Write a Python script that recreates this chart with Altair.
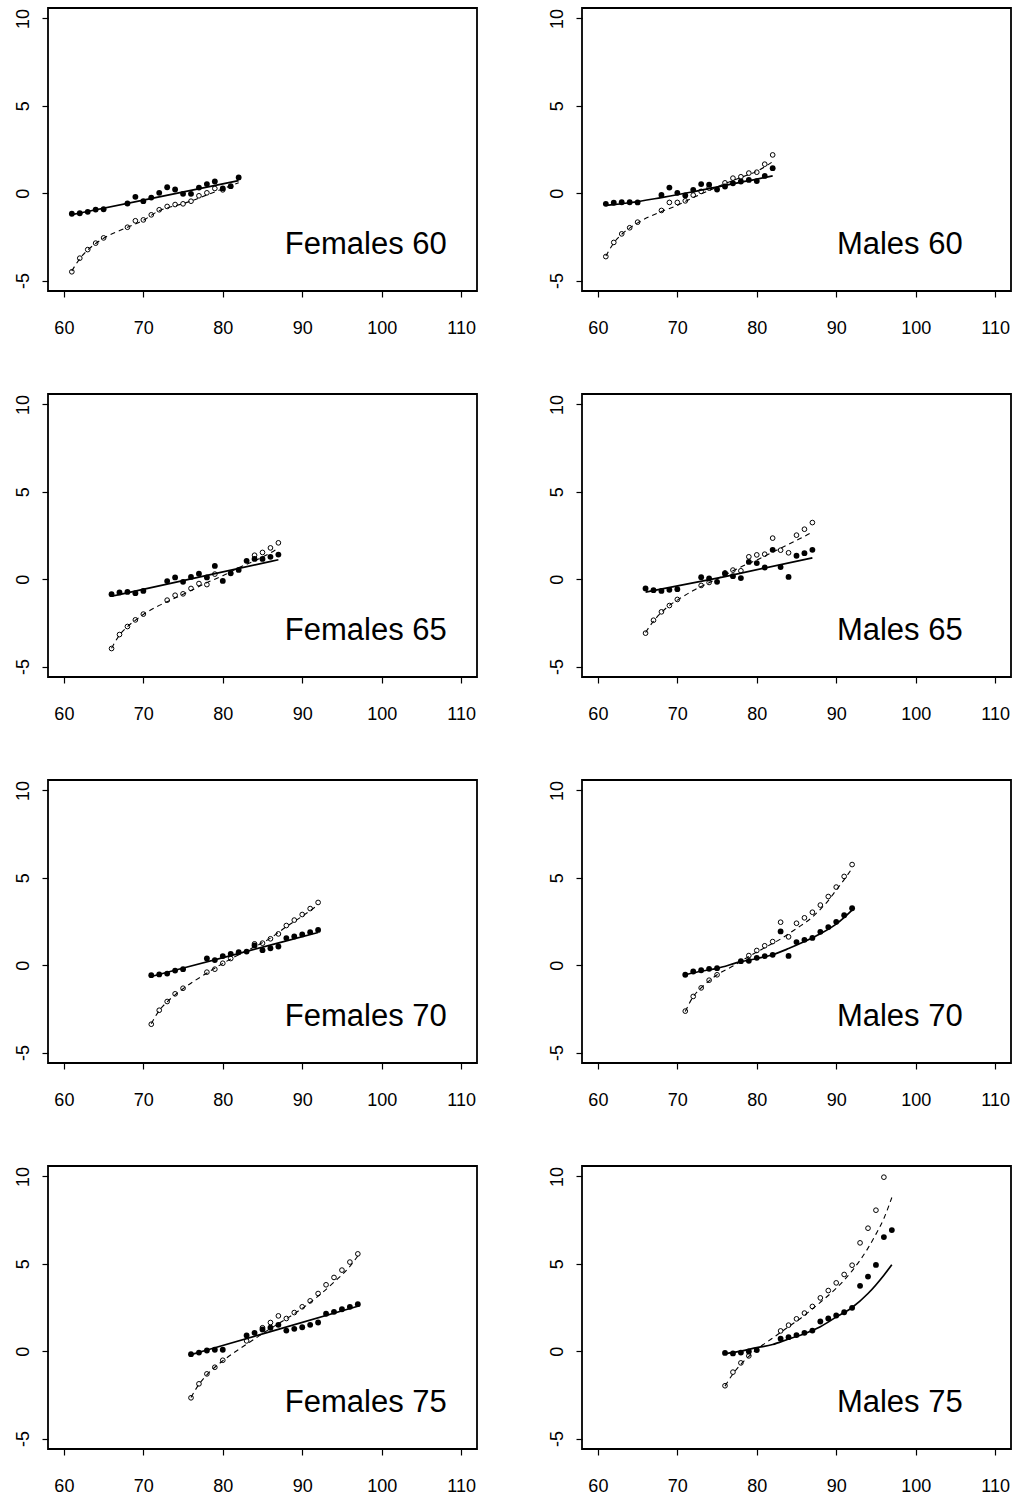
import altair as alt
import pandas as pd

# ---- ages observed in each cohort (gaps where no observations exist) ----
AGES_60 = [61, 62, 63, 64, 65, 68, 69, 70, 71, 72, 73, 74, 75, 76, 77, 78, 79, 80, 81, 82]
AGES_65 = [66, 67, 68, 69, 70, 73, 74, 75, 76, 77, 78, 79, 80, 81, 82, 83, 84, 85, 86, 87]
AGES_70 = [71, 72, 73, 74, 75, 78, 79, 80, 81, 82, 83, 84, 85, 86, 87, 88, 89, 90, 91, 92]
AGES_75 = [76, 77, 78, 79, 80, 83, 84, 85, 86, 87, 88, 89, 90, 91, 92, 93, 94, 95, 96, 97]

# ---- Females 60 ----
F60_FILLED = [-1.18, -1.15, -1.07, -0.94, -0.92, -0.59, -0.21, -0.46, -0.25, 0.02,
              0.34, 0.21, -0.04, -0.04, 0.32, 0.52, 0.67, 0.27, 0.40, 0.90]
F60_OPEN = [-4.50, -3.72, -3.23, -2.86, -2.56, -1.95, -1.58, -1.53, -1.24, -0.95,
            -0.76, -0.65, -0.61, -0.46, -0.15, 0.02, 0.27, 0.19, None, None]
F60_SOLID_AGE = [61, 70, 82]
F60_SOLID = [-1.23, -0.40, 0.72]
F60_DASH_AGE = [61, 62, 63, 64, 65, 68, 70, 72, 74, 75, 76, 78, 80, 82]
F60_DASH = [-4.45, -3.75, -3.25, -2.88, -2.58, -1.95, -1.55, -1.0, -0.72, -0.6, -0.45, -0.1, 0.25, 0.6]

# ---- Males 60 ----
M60_FILLED = [-0.61, -0.55, -0.52, -0.52, -0.53, -0.10, 0.32, 0.02, -0.13, 0.19,
              0.52, 0.48, 0.21, 0.38, 0.57, 0.67, 0.76, 0.69, 0.99, 1.43]
M60_OPEN = [-3.63, -2.82, -2.33, -1.98, -1.66, -0.99, -0.53, -0.53, -0.44, -0.11,
            0.10, 0.29, None, 0.59, 0.86, 0.94, 1.15, 1.20, 1.66, 2.19]
M60_SOLID_AGE = [61, 64, 68, 72, 76, 80, 82]
M60_SOLID = [-0.70, -0.55, -0.25, 0.08, 0.45, 0.80, 0.99]
M60_DASH_AGE = [61, 62, 63, 64, 65, 68, 70, 72, 74, 76, 78, 80, 82]
M60_DASH = [-3.6, -2.85, -2.35, -2.0, -1.7, -1.05, -0.7, -0.25, 0.15, 0.55, 0.9, 1.25, 1.8]

# ---- Females 65 ----
F65_FILLED = [-0.86, -0.76, -0.73, -0.80, -0.67, -0.11, 0.10, -0.15, 0.13, 0.31,
              0.10, 0.76, -0.10, 0.34, 0.53, 1.05, 1.16, 1.16, 1.28, 1.41]
F65_OPEN = [-3.97, -3.17, -2.71, -2.33, -2.00, -1.20, -0.92, -0.84, -0.53, -0.25,
            -0.31, 0.29, None, None, None, None, 1.37, 1.53, 1.79, 2.08]
F65_SOLID_AGE = [66, 76, 87]
F65_SOLID = [-0.98, 0.02, 1.11]
F65_DASH_AGE = [66, 67, 68, 69, 70, 72, 74, 76, 78, 80, 82, 84, 86, 87]
F65_DASH = [-3.95, -3.2, -2.72, -2.35, -2.02, -1.5, -1.08, -0.65, -0.2, 0.2, 0.65, 1.05, 1.5, 1.78]

# ---- Males 65 ----
M65_FILLED = [-0.53, -0.63, -0.67, -0.61, -0.57, 0.11, 0.04, -0.15, 0.31, 0.17,
              0.06, 0.99, 0.92, 0.67, 1.68, 0.69, 0.13, 1.34, 1.49, 1.68]
M65_OPEN = [-3.09, -2.35, -1.87, -1.51, -1.16, -0.36, -0.19, None, 0.36, 0.52,
            0.48, 1.28, 1.39, 1.43, 2.35, 1.66, 1.51, 2.52, 2.86, 3.24]
M65_SOLID_AGE = [66, 76, 87]
M65_SOLID = [-0.74, 0.15, 1.22]
M65_DASH_AGE = [66, 67, 68, 69, 70, 72, 74, 76, 78, 80, 82, 84, 86, 87]
M65_DASH = [-3.05, -2.4, -1.9, -1.5, -1.2, -0.65, -0.2, 0.25, 0.7, 1.1, 1.55, 2.0, 2.45, 2.7]

# ---- Females 70 ----
F70_FILLED = [-0.57, -0.53, -0.48, -0.31, -0.23, 0.38, 0.29, 0.52, 0.65, 0.74,
              0.78, 1.13, 0.86, 0.97, 1.07, 1.55, 1.64, 1.76, 1.89, 2.02]
F70_OPEN = [-3.38, -2.58, -2.08, -1.64, -1.32, -0.40, -0.23, 0.11, 0.38, None,
            None, 1.22, 1.26, 1.51, 1.79, 2.27, 2.58, 2.90, 3.24, 3.59]
F70_SOLID_AGE = [71, 81, 92]
F70_SOLID = [-0.65, 0.55, 1.87]
F70_DASH_AGE = [71, 72, 73, 74, 75, 78, 80, 82, 84, 86, 88, 90, 92]
F70_DASH = [-3.35, -2.6, -2.1, -1.7, -1.35, -0.45, 0.1, 0.6, 1.05, 1.55, 2.2, 2.8, 3.45]

# ---- Males 70 ----
M70_FILLED = [-0.55, -0.36, -0.29, -0.21, -0.17, 0.23, 0.25, 0.42, 0.52, 0.59,
              1.93, 0.53, 1.32, 1.45, 1.56, 1.91, 2.18, 2.48, 2.86, 3.26]
M70_OPEN = [-2.63, -1.79, -1.30, -0.86, -0.55, None, 0.55, 0.84, 1.11, 1.35,
            2.46, 1.62, 2.40, 2.71, 3.03, 3.44, 3.93, 4.47, 5.08, 5.76]
M70_SOLID_AGE = [71, 73, 75, 78, 80, 82, 84, 86, 88, 90, 92]
M70_SOLID = [-0.55, -0.35, -0.18, 0.2, 0.38, 0.6, 0.95, 1.35, 1.8, 2.35, 3.15]
M70_DASH_AGE = [71, 72, 73, 74, 75, 77, 79, 81, 83, 85, 87, 88, 89, 90, 91, 92]
M70_DASH = [-2.65, -1.8, -1.3, -0.9, -0.55, -0.05, 0.5, 1.0, 1.5, 2.1, 2.75, 3.2, 3.7, 4.3, 4.9, 5.55]

# ---- Females 75 ----
F75_FILLED = [-0.17, -0.08, 0.04, 0.08, 0.08, 0.90, 1.05, 1.24, 1.34, 1.51,
              1.18, 1.28, 1.37, 1.51, 1.64, 2.14, 2.25, 2.40, 2.54, 2.69]
F75_OPEN = [-2.67, -1.87, -1.30, -0.92, -0.52, 0.59, None, 1.34, 1.64, 2.02,
            1.87, 2.21, 2.54, 2.88, 3.30, 3.80, 4.22, 4.64, 5.10, 5.57]
F75_SOLID_AGE = [76, 86, 97]
F75_SOLID = [-0.20, 1.12, 2.57]
F75_DASH_AGE = [76, 77, 78, 79, 80, 82, 84, 86, 88, 90, 92, 94, 96, 97]
F75_DASH = [-2.65, -1.9, -1.35, -0.92, -0.55, 0.1, 0.7, 1.3, 1.85, 2.45, 3.15, 3.95, 4.85, 5.45]

# ---- Males 75 ----
M75_FILLED = [-0.10, -0.13, -0.08, -0.02, 0.06, 0.71, 0.80, 0.92, 1.05, 1.18,
              1.70, 1.87, 2.04, 2.23, 2.48, 3.74, 4.27, 4.94, 6.53, 6.93]
M75_OPEN = [-1.98, -1.20, -0.67, -0.27, None, 1.16, 1.49, 1.85, 2.18, 2.56,
            3.05, 3.47, 3.91, 4.39, 4.92, 6.20, 7.04, 8.07, 9.96, None]
M75_SOLID_AGE = [76, 78, 80, 82, 84, 86, 88, 90, 92, 94, 96, 97]
M75_SOLID = [-0.15, 0.0, 0.2, 0.38, 0.7, 1.0, 1.4, 1.95, 2.5, 3.3, 4.35, 4.95]
M75_DASH_AGE = [76, 77, 78, 79, 80, 82, 84, 86, 88, 90, 92, 94, 95, 96, 97]
M75_DASH = [-2.0, -1.3, -0.75, -0.3, 0.1, 0.75, 1.4, 2.05, 2.8, 3.6, 4.6, 5.9, 6.7, 7.6, 8.8]

PANELS = [
    ("Females 60", AGES_60, F60_FILLED, F60_OPEN, F60_SOLID_AGE, F60_SOLID, F60_DASH_AGE, F60_DASH),
    ("Males 60", AGES_60, M60_FILLED, M60_OPEN, M60_SOLID_AGE, M60_SOLID, M60_DASH_AGE, M60_DASH),
    ("Females 65", AGES_65, F65_FILLED, F65_OPEN, F65_SOLID_AGE, F65_SOLID, F65_DASH_AGE, F65_DASH),
    ("Males 65", AGES_65, M65_FILLED, M65_OPEN, M65_SOLID_AGE, M65_SOLID, M65_DASH_AGE, M65_DASH),
    ("Females 70", AGES_70, F70_FILLED, F70_OPEN, F70_SOLID_AGE, F70_SOLID, F70_DASH_AGE, F70_DASH),
    ("Males 70", AGES_70, M70_FILLED, M70_OPEN, M70_SOLID_AGE, M70_SOLID, M70_DASH_AGE, M70_DASH),
    ("Females 75", AGES_75, F75_FILLED, F75_OPEN, F75_SOLID_AGE, F75_SOLID, F75_DASH_AGE, F75_DASH),
    ("Males 75", AGES_75, M75_FILLED, M75_OPEN, M75_SOLID_AGE, M75_SOLID, M75_DASH_AGE, M75_DASH),
]

X_TICKS = [60, 70, 80, 90, 100, 110]
Y_TICKS = [-5, 0, 5, 10]

FONT = "Liberation Sans"
PANEL_W, PANEL_H = 429, 283

x_scale = alt.Scale(domain=[58, 112], nice=False, zero=False)
y_scale = alt.Scale(domain=[-5.6, 10.6], nice=False, zero=False)

x_axis = alt.Axis(values=X_TICKS, title=None, grid=False, domain=False,
                  tickColor="black", tickSize=6, tickWidth=1.2,
                  labelFont=FONT, labelFontSize=18, labelColor="black",
                  labelPadding=22, labelBaseline="top", labelFlush=False,
                  labelOverlap=False)
y_axis = alt.Axis(values=Y_TICKS, title=None, grid=False, domain=False,
                  tickColor="black", tickSize=6, tickWidth=1.2,
                  labelFont=FONT, labelFontSize=18, labelColor="black",
                  labelAngle=270, labelAlign="center", labelBaseline="alphabetic",
                  labelPadding=14, labelFlush=False, labelOverlap=False,
                  labelExpr="datum.value < 0 ? '-' + abs(datum.value) : '' + datum.value")


def panel(label, ages, filled, opened, s_age, s_val, d_age, d_val):
    x = alt.X("age:Q", scale=x_scale, axis=x_axis)
    y = alt.Y("value:Q", scale=y_scale, axis=y_axis)

    dots = pd.DataFrame({"age": ages, "value": filled})
    rings = pd.DataFrame({"age": ages, "value": opened}).dropna()
    solid = pd.DataFrame({"age": s_age, "value": s_val})
    dashed = pd.DataFrame({"age": d_age, "value": d_val})
    caption = pd.DataFrame({"age": [98], "value": [-3.5], "label": [label]})

    solid_line = alt.Chart(solid).mark_line(
        color="black", strokeWidth=1.7, interpolate="monotone").encode(x=x, y=y)
    dashed_line = alt.Chart(dashed).mark_line(
        color="black", strokeWidth=1.1, strokeDash=[5, 4], interpolate="monotone").encode(x=x, y=y)
    open_pts = alt.Chart(rings).mark_point(
        shape="circle", filled=False, color="black", strokeWidth=1, size=22, opacity=1).encode(x=x, y=y)
    solid_pts = alt.Chart(dots).mark_circle(
        color="black", size=34, opacity=1).encode(x=x, y=y)
    text = alt.Chart(caption).mark_text(
        font=FONT, fontSize=31, color="black", align="center", baseline="alphabetic").encode(
        x=x, y=y, text="label:N")

    return alt.layer(solid_line, dashed_line, open_pts, solid_pts, text).properties(
        width=PANEL_W, height=PANEL_H)


charts = [panel(*p) for p in PANELS]
rows = [alt.hconcat(charts[i], charts[i + 1], spacing=69) for i in range(0, 8, 2)]

chart = alt.vconcat(*rows, spacing=55).properties(
    padding={"left": 13, "top": 7, "right": 0, "bottom": 0},
    background="white",
).configure_view(
    stroke="black", strokeWidth=1.8
)

chart.save("out.html", embed_options={"renderer": "svg", "actions": False})
